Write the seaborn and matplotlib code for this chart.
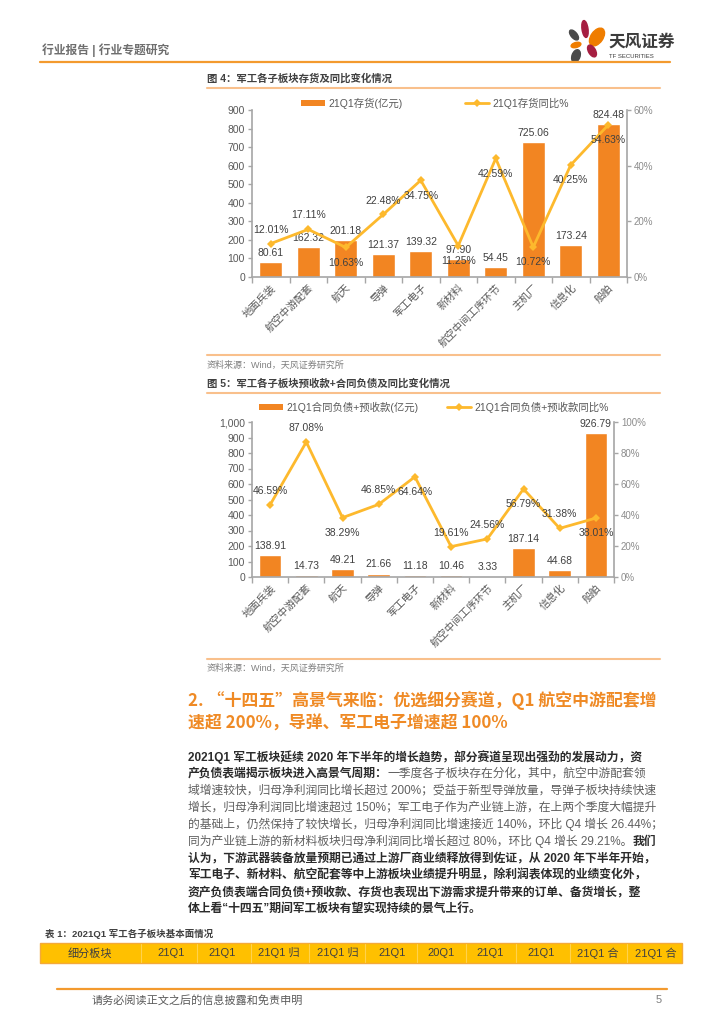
import numpy as np
import matplotlib
matplotlib.use("Agg")
import matplotlib.pyplot as plt
from matplotlib.patches import Rectangle, Ellipse, Patch
from matplotlib.lines import Line2D
from matplotlib.ticker import FuncFormatter
import seaborn as sns

sns.set_theme(style="ticks")
plt.rcParams["font.family"] = ["Liberation Sans", "Noto Sans CJK SC", "DejaVu Sans"]
plt.rcParams["axes.unicode_minus"] = False

# data
sectors = ["地面兵装", "航空中游配套", "航天", "导弹", "军工电子", "新材料",
           "航空中间工序环节", "主机厂", "信息化", "船舶"]
inventory = [80.61, 162.32, 201.18, 121.37, 139.32, 97.90, 54.45, 725.06, 173.24, 824.48]
inventory_yoy = [12.01, 17.11, 10.63, 22.48, 34.75, 11.25, 42.59, 10.72, 40.25, 54.63]
contract = [138.91, 14.73, 49.21, 21.66, 11.18, 10.46, 3.33, 187.14, 44.68, 926.79]
contract_yoy = [46.59, 87.08, 38.29, 46.85, 64.64, 19.61, 24.56, 56.79, 31.38, 38.01]

# where each yoy label sits relative to its point
inventory_side = ["up", "up", "down", "up", "down", "down", "down", "down", "down", "down"]
contract_side = ["up", "up", "down", "up", "down", "up", "up", "down", "up", "down"]

table_cols = ["细分板块", "21Q1", "21Q1", "21Q1 归", "21Q1 归", "21Q1", "20Q1",
              "21Q1", "21Q1", "21Q1 合", "21Q1 合"]
table_x = [90, 171, 222, 279, 338, 392, 441, 490, 541, 598, 656]

ORANGE = "#F28522"
YELLOW = "#FDB92D"
AXIS = "#A6A6A6"
TEXT = "#404040"
TICK = "#595959"
LIGHT = "#F9C08C"
HEAD = "#EF8A25"
CJK = ["Noto Sans CJK SC", "DejaVu Sans"]

W, H = 724, 1024
fig = plt.figure(figsize=(7.24, 10.24), dpi=100)


def fx(px):
    return px / W


def fy(py):
    return 1 - py / H


def hline(x0, x1, y, color, lw):
    fig.add_artist(Line2D([fx(x0), fx(x1)], [fy(y), fy(y)], color=color, lw=lw,
                          transform=fig.transFigure))


def combo_chart(box, bars, pct, sides, ymax, ystep, pmax, pstep, yfmt):
    left, top, right, bottom = box
    ax = fig.add_axes([fx(left), fy(bottom), (right - left) / W, (bottom - top) / H])
    sns.barplot(x=sectors, y=bars, color=ORANGE, saturation=1, width=0.62, ax=ax)
    ax.set_ylim(0, ymax)
    ax.set_yticks(np.arange(0, ymax + 1, ystep))
    ax.yaxis.set_major_formatter(FuncFormatter(yfmt))
    ax.bar_label(ax.containers[0], fmt="%.2f", padding=3, fontsize=7.5, color=TEXT)

    ax2 = ax.twinx()
    sns.pointplot(x=sectors, y=pct, color=YELLOW, markers="D", markersize=4.5,
                  markeredgewidth=0, linewidth=2, errorbar=None, ax=ax2)
    ax2.set_ylim(0, pmax)
    ax2.set_yticks(np.arange(0, pmax + 1, pstep))
    ax2.yaxis.set_major_formatter(FuncFormatter(lambda v, p: f"{v:.0f}%"))
    for i, (v, s) in enumerate(zip(pct, sides)):
        ax2.annotate(f"{v:.2f}%", (i, v), xytext=(0, 10 if s == "up" else -11),
                     textcoords="offset points", ha="center", va="center",
                     fontsize=7.5, color=TEXT)

    ax.set_xlim(-0.5, len(sectors) - 0.5)
    ax.set_xlabel("")
    ax.set_ylabel("")
    ax2.set_ylabel("")
    for a in (ax, ax2):
        for sp in a.spines.values():
            sp.set_visible(False)
    ax.spines["left"].set_visible(True)
    ax.spines["bottom"].set_visible(True)
    ax2.spines["right"].set_visible(True)
    for sp in (ax.spines["left"], ax.spines["bottom"], ax2.spines["right"]):
        sp.set_color(AXIS)
        sp.set_linewidth(1.2)

    ax.set_xticks(np.arange(-0.5, len(sectors)), minor=True)
    ax.tick_params(axis="x", which="major", length=0, pad=4, labelsize=7.5, labelcolor=TICK)
    ax.tick_params(axis="x", which="minor", length=4, width=1, color=AXIS)
    ax.tick_params(axis="y", length=3, width=1, color=AXIS, labelsize=7.5, labelcolor=TICK, pad=2)
    ax2.tick_params(axis="y", length=3, width=1, color=AXIS, labelsize=7, labelcolor="#8C8C8C", pad=2)
    plt.setp(ax.get_xticklabels(), rotation=45, ha="right", rotation_mode="anchor")
    return ax, ax2


def legend(labels, cx, cy, gap):
    handles = [Patch(facecolor=ORANGE, edgecolor="none"),
               Line2D([], [], color=YELLOW, lw=2, marker="D", ms=4.5, mew=0)]
    fig.legend(handles, labels, loc="center", bbox_to_anchor=(fx(cx), fy(cy)), ncol=2,
               frameon=False, fontsize=7.5, handlelength=2.3, handleheight=0.55,
               handletextpad=0.3, columnspacing=gap, labelcolor=TICK)


# page header
fig.text(fx(42), fy(50), "行业报告 | 行业专题研究", fontsize=8.5, color="#6E6E6E",
         fontweight="bold", va="center")
hline(40, 670, 62, "#F39A2E", 1.6)
for (cx, cy, w, h, ang, c) in [(585, 29, 6, 17, 8, "#A61E41"), (574, 35, 6, 12, 40, "#4A4A4A"),
                               (597, 37, 12, 20, -35, "#EF7D00"), (576, 45, 10, 5, 15, "#EF7D00"),
                               (592, 51, 7, 13, 30, "#A61E41"), (576, 56, 8, 13, -20, "#4A4A4A")]:
    fig.add_artist(Ellipse((cx / 100, (H - cy) / 100), w / 100, h / 100, angle=ang,
                           color=c, transform=fig.dpi_scale_trans))
fig.text(fx(608), fy(42), "天风证券", fontsize=12, color="#3C3C3C", fontweight="bold", va="center")
fig.text(fx(609), fy(56), "TF SECURITIES", fontsize=4.3, color="#3C3C3C", va="center")

# figure 4
fig.text(fx(207), fy(78), "图 4：军工各子板块存货及同比变化情况", fontsize=7.5, color=TEXT,
         fontweight="bold", va="center")
hline(207, 660, 88, LIGHT, 1.5)
legend(["21Q1存货(亿元)", "21Q1存货同比%"], 435, 103, 6.0)
combo_chart((252, 110, 627, 277), inventory, inventory_yoy, inventory_side,
            900, 100, 60, 20, lambda v, p: f"{v:.0f}")
hline(207, 660, 355, LIGHT, 1.5)
fig.text(fx(207), fy(365), "资料来源：Wind，天风证券研究所", fontsize=6.5, color="#7F7F7F", va="center")

# figure 5
fig.text(fx(207), fy(383), "图 5：军工各子板块预收款+合同负债及同比变化情况", fontsize=7.5, color=TEXT,
         fontweight="bold", va="center")
hline(207, 660, 393, LIGHT, 1.5)
legend(["21Q1合同负债+预收款(亿元)", "21Q1合同负债+预收款同比%"], 434, 407, 2.8)
combo_chart((252, 422, 614, 577), contract, contract_yoy, contract_side,
            1000, 100, 100, 20, lambda v, p: f"{v:,.0f}")
hline(207, 660, 659, LIGHT, 1.5)
fig.text(fx(207), fy(668), "资料来源：Wind，天风证券研究所", fontsize=6.5, color="#7F7F7F", va="center")

# section heading
fig.text(fx(188), fy(700), "2. “十四五”高景气来临：优选细分赛道，Q1 航空中游配套增",
         fontsize=12.2, color=HEAD, fontweight="bold", va="center", family=CJK)
fig.text(fx(188), fy(724), "速超 200%，导弹、军工电子增速超 100%",
         fontsize=12.2, color=HEAD, fontweight="bold", va="center", family=CJK)

# body paragraph (bold and regular runs)
body_lines = [
    [("2021Q1 军工板块延续 2020 年下半年的增长趋势，部分赛道呈现出强劲的发展动力，资", True)],
    [("产负债表端揭示板块进入高景气周期：", True), ("一季度各子板块存在分化，其中，航空中游配套领", False)],
    [("域增速较快，归母净利润同比增长超过 200%；受益于新型导弹放量，导弹子板块持续快速", False)],
    [("增长，归母净利润同比增速超过 150%；军工电子作为产业链上游，在上两个季度大幅提升", False)],
    [("的基础上，仍然保持了较快增长，归母净利润同比增速接近 140%，环比 Q4 增长 26.44%；", False)],
    [("同为产业链上游的新材料板块归母净利润同比增长超过 80%，环比 Q4 增长 29.21%。", False), ("我们", True)],
    [("认为，下游武器装备放量预期已通过上游厂商业绩释放得到佐证，从 2020 年下半年开始，", True)],
    [("军工电子、新材料、航空配套等中上游板块业绩提升明显，除利润表体现的业绩变化外，", True)],
    [("资产负债表端合同负债+预收款、存货也表现出下游需求提升带来的订单、备货增长，整", True)],
    [("体上看“十四五”期间军工板块有望实现持续的景气上行。", True)],
]
renderer = fig.canvas.get_renderer()
for i, runs in enumerate(body_lines):
    x = fx(188)
    y = fy(757 + i * 16.9)
    for txt, bold in runs:
        t = fig.text(x, y, txt, fontsize=8.5, va="center",
                     color="#2B2B2B" if bold else "#5F5F5F",
                     fontweight="bold" if bold else "normal")
        x = t.get_window_extent(renderer=renderer).x1 / W

# table 1 header
fig.text(fx(45), fy(934), "表 1：2021Q1 军工各子板块基本面情况", fontsize=6.8, color=TEXT,
         fontweight="bold", va="center")
fig.add_artist(Rectangle((fx(40), fy(963)), fx(682) - fx(40), (963 - 943) / H,
                         facecolor="#FFC000", edgecolor="#F4A93A", lw=1, transform=fig.transFigure))
for i in range(1, len(table_x)):
    xs = (table_x[i - 1] + table_x[i]) / 2 + (10 if i == 1 else 0)
    fig.add_artist(Line2D([fx(xs), fx(xs)], [fy(944), fy(962)], color="#FFD24D", lw=0.8,
                          transform=fig.transFigure))
for lab, x in zip(table_cols, table_x):
    fig.text(fx(x), fy(953), lab, fontsize=8, color=TEXT, ha="center", va="center")

# footer
hline(57, 667, 989, "#F39A2E", 1.6)
fig.text(fx(92), fy(1000), "请务必阅读正文之后的信息披露和免责申明", fontsize=8, color="#595959", va="center")
fig.text(fx(662), fy(1000), "5", fontsize=8, color="#7F7F7F", ha="right", va="center")

fig.savefig("out.png", dpi=100)
plt.close(fig)
